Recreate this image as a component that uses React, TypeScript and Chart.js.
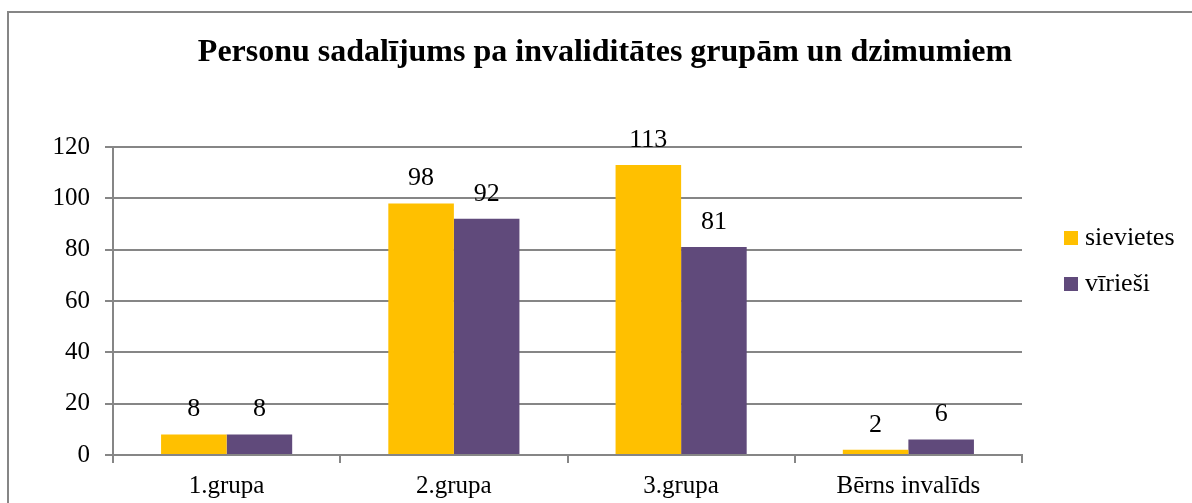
import React, { useEffect, useRef } from "react";
import { Chart, registerables } from "chart.js";

Chart.register(...registerables);

const categories = ["1.grupa", "2.grupa", "3.grupa", "Bērns invalīds"];
const sievietes = [8, 98, 113, 2];
const virieshi = [8, 92, 81, 6];
const seriesNames = ["sievietes", "vīrieši"];
const chartTitle = "Personu sadalījums pa invaliditātes grupām un dzimumiem";
const colors = ["#FFC000", "#604A7B"];
const FONT = "'Liberation Serif', 'Times New Roman', serif";
const GRID = "#868686";

const decorPlugin = {
  id: "decor",
  afterDraw(chart: any) {
    const ctx = chart.ctx as CanvasRenderingContext2D;
    ctx.save();
    // outer border
    ctx.strokeStyle = GRID;
    ctx.lineWidth = 2;
    ctx.beginPath();
    ctx.moveTo(8, 510);
    ctx.lineTo(8, 12);
    ctx.lineTo(1200, 12);
    ctx.stroke();
    // title
    ctx.fillStyle = "#000";
    ctx.font = `bold 32px ${FONT}`;
    ctx.textAlign = "center";
    ctx.textBaseline = "middle";
    ctx.fillText(chartTitle, 605, 53);
    // legend
    ctx.font = `26px ${FONT}`;
    ctx.textAlign = "left";
    const ys = [238, 284];
    seriesNames.forEach((n, i) => {
      ctx.fillStyle = colors[i];
      ctx.fillRect(1064, ys[i] - 7, 14, 14);
      ctx.fillStyle = "#000";
      ctx.fillText(n, 1085, ys[i]);
    });
    // data labels
    ctx.textAlign = "center";
    ctx.textBaseline = "middle";
    chart.data.datasets.forEach((ds: any, di: number) => {
      const meta = chart.getDatasetMeta(di);
      meta.data.forEach((el: any, i: number) => {
        ctx.fillText(String(ds.data[i]), el.x, el.y - 25);
      });
    });
    ctx.restore();
  },
};

export default function App() {
  const ref = useRef<HTMLCanvasElement>(null);
  useEffect(() => {
    document.body.style.margin = "0";
    const chart = new Chart(ref.current!, {
      type: "bar",
      data: {
        labels: categories,
        datasets: [
          { label: seriesNames[0], data: sievietes, backgroundColor: colors[0] },
          { label: seriesNames[1], data: virieshi, backgroundColor: colors[1] },
        ],
      },
      options: {
        animation: false,
        responsive: false,
        layout: { padding: { top: 147, right: 170, left: 0, bottom: 0 } },
        plugins: { legend: { display: false }, title: { display: false }, tooltip: { enabled: false } },
        datasets: { bar: { categoryPercentage: 0.577, barPercentage: 1 } },
        scales: {
          x: {
            afterFit(s: any) { s.height = 48; },
            grid: { display: true, drawOnChartArea: false, color: GRID, lineWidth: 2, tickLength: 8, offset: true },
            border: { color: GRID, width: 2 },
            ticks: { color: "#000", font: { family: FONT, size: 25 }, padding: 8 },
          },
          y: {
            min: 0,
            max: 120,
            afterFit(s: any) { s.width = 113; },
            ticks: { stepSize: 20, color: "#000", font: { family: FONT, size: 25 }, padding: 15 },
            grid: { color: GRID, lineWidth: 2, tickLength: 8 },
            border: { color: GRID, width: 2 },
          },
        },
      },
      plugins: [decorPlugin],
    } as any);
    return () => chart.destroy();
  }, []);
  return <canvas ref={ref} width={1192} height={503} style={{ display: "block" }} />;
}
